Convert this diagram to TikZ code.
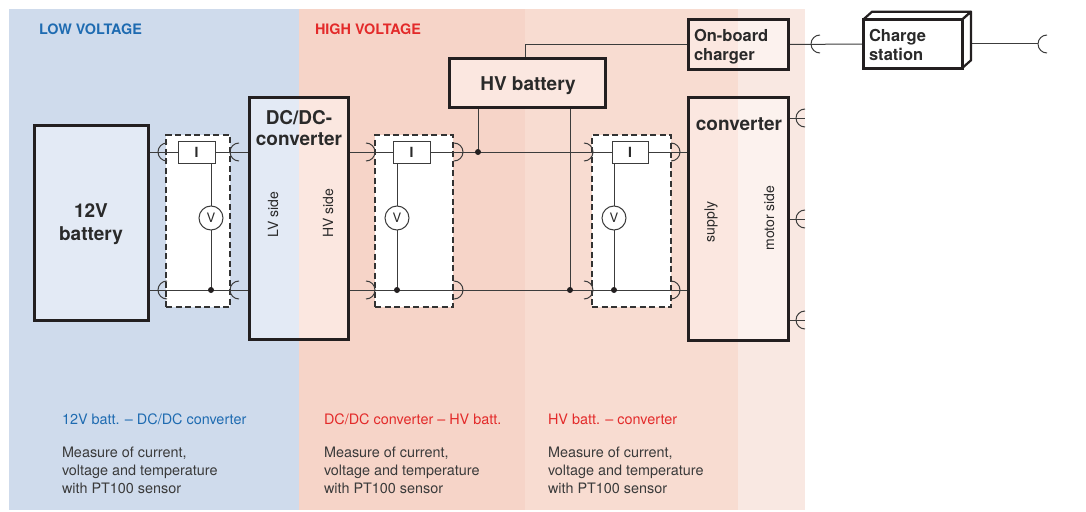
\documentclass[tikz,border=0pt]{standalone}
\usepackage{fontspec}
\setmainfont{TeX Gyre Heros}
\usetikzlibrary{calc}
\definecolor{lvbg}{HTML}{CFDBEC}
\definecolor{lvfill}{HTML}{E3EAF5}
\definecolor{hvbgA}{HTML}{F6D4C8}
\definecolor{hvbgB}{HTML}{F8DCD1}
\definecolor{hvbgC}{HTML}{F9E8E2}
\definecolor{hvfill}{HTML}{FBE7E0}
\definecolor{hvfillB}{HTML}{FCF2EE}
\definecolor{lvtext}{HTML}{1E6BB1}
\definecolor{hvtext}{HTML}{E32A2A}
\definecolor{framec}{HTML}{231F20}
\definecolor{wirec}{HTML}{3C3C3C}
\definecolor{dashc}{HTML}{333333}
\definecolor{textc}{HTML}{2A2A2A}
\definecolor{bodyc}{HTML}{3A3A3A}
\begin{document}
\begin{tikzpicture}[x=1pt,y=-1pt,
  every node/.style={inner sep=0pt,outer sep=0pt},
  frame/.style={draw=framec,line width=3pt},
  boxlabel/.style={text=textc,font=\bfseries\fontsize{19}{21}\selectfont,align=center},
  smallbox/.style={text=textc,font=\bfseries\fontsize{16.5}{18.3}\selectfont,align=left},
  meas/.style={draw=dashc,line width=1.1pt,dash pattern=on 6pt off 3.5pt,fill=white,minimum height=172pt},
  ibox/.style={draw=wirec,line width=1pt,fill=white,minimum width=37pt,minimum height=22pt,font=\bfseries\fontsize{14}{14}\selectfont,text=textc},
  vmeter/.style={circle,draw=wirec,line width=1pt,fill=white,minimum size=24pt,font=\fontsize{13}{13}\selectfont,text=textc},
  wire/.style={draw=wirec,line width=1pt},
  jdot/.style={circle,fill=framec,minimum size=6pt},
  sidelabel/.style={rotate=90,font=\fontsize{14}{14}\selectfont,text=textc},
  hdr/.style={font=\bfseries\fontsize{14.4}{14.4}\selectfont,anchor=base west},
  subhdr/.style={font=\fontsize{14.4}{14.4}\selectfont,anchor=base west},
  bodytext/.style={font=\fontsize{14.4}{18}\selectfont,text=bodyc,align=left,anchor=north west},
  sockL/.pic={\draw[wire] (0,9) arc[start angle=90,end angle=270,radius=9];},
  sockR/.pic={\draw[wire] (0,-9) arc[start angle=-90,end angle=90,radius=9];}
]
\useasboundingbox (0,0) rectangle (1086,511);
% backgrounds
\fill[lvbg] (9,9) rectangle (299,510);
\fill[hvbgA] (299,9) rectangle (525,510);
\fill[hvbgB] (525,9) rectangle (738,510);
\fill[hvbgC] (738,9) rectangle (805,510);
% coordinates
\coordinate (yT) at (0,152);
\coordinate (yB) at (0,290);
\coordinate (splitLV) at (299,0);
\coordinate (splitC) at (738,0);
\coordinate (jT) at (478,152);
\coordinate (jB) at (570,290);
\coordinate (hvtap) at (525,44);
\coordinate (m1) at (805,118);
\coordinate (m2) at (805,219);
\coordinate (m3) at (805,320);
\coordinate (plugA) at (820,44);
\coordinate (plugB) at (1047,44);
% headers
\node[hdr,text=lvtext] (lvhead) at (39,34.5) {LOW VOLTAGE};
\node[hdr,text=hvtext] (hvhead) at (315,34.5) {HIGH VOLTAGE};
% bottom texts
\node[subhdr,text=lvtext] (lvsub) at (62,424) {12V batt. – DC/DC converter};
\node[subhdr,text=hvtext] (hvsubA) at (324,424) {DC/DC converter – HV batt.};
\node[subhdr,text=hvtext] (hvsubB) at (548,424) {HV batt. – converter};
\node[bodytext] (lvbody) at (62,446.8) {Measure of current,\\voltage and temperature\\with PT100 sensor};
\node[bodytext] (hvbodyA) at (324,446.8) {Measure of current,\\voltage and temperature\\with PT100 sensor};
\node[bodytext] (hvbodyB) at (548,446.8) {Measure of current,\\voltage and temperature\\with PT100 sensor};
% measuring boxes
\node[meas,minimum width=64pt] (measA) at (198,221) {};
\node[meas,minimum width=78pt] (measB) at (414,221) {};
\node[meas,minimum width=79pt] (measC) at (631.5,221) {};
% main node geometry (placeholders, drawn below)
\path node[minimum width=99pt,minimum height=242pt] (dcdc) at (298.5,218) {};
\path node[minimum width=100pt,minimum height=243pt] (conv) at (738,218.5) {};
\path node[minimum width=100pt,minimum height=49pt] (obc) at (738,44.5) {};
\path node[minimum width=99pt,minimum height=48.5pt] (cs) at (912.5,44) {};
\path node[minimum width=156pt,minimum height=48pt] (hvbat) at (527,83) {};
\path node[minimum width=114pt,minimum height=195pt] (bat12) at (91,222.5) {};
% wires
\draw[wire] (bat12.east |- yT) -- (dcdc.west |- yT);
\draw[wire] (bat12.east |- yB) -- (dcdc.west |- yB);
\draw[wire] (dcdc.east |- yT) -- (conv.west |- yT);
\draw[wire] (dcdc.east |- yB) -- (conv.west |- yB);
\draw[wire] (hvbat.south -| jT) -- (jT);
\draw[wire] (hvbat.south -| jB) -- (jB);
\draw[wire] (hvbat.north -| hvtap) |- (obc.west);
\draw[wire] (obc.east) -- (cs.west);
\draw[wire] (cs.east) -- ($(plugB)+(-9,0)$);
\draw[wire] (conv.east |- m1) -- (m1);
\draw[wire] (conv.east |- m2) -- (m2);
\draw[wire] (conv.east |- m3) -- (m3);
% meters
\node[ibox] (iA) at (196.5,152) {I};
\node[ibox] (iB) at (411.5,152) {I};
\node[ibox,minimum width=36pt] (iC) at (630,152) {I};
\node[vmeter] (vA) at (211,218) {V};
\node[vmeter] (vB) at (397,218) {V};
\node[vmeter] (vC) at (614,218) {V};
\foreach \v/\i in {vA/iA,vB/iB,vC/iC}{
  \draw[wire] (\i.south -| \v) -- (\v.north);
  \draw[wire] (\v.south) -- (\v |- yB);
  \node[jdot] at (\v |- yB) {};
}
\node[jdot] (dotT) at (jT) {};
\node[jdot] (dotB) at (jB) {};
% sockets
\foreach \y in {yT,yB}{
  \pic at ($(measA.west |- \y)+(1,0)$) {sockL};
  \pic at ($(measA.east |- \y)+(9,0)$) {sockL};
  \pic at ($(measB.west |- \y)+(-9,0)$) {sockR};
  \pic at ($(measB.east |- \y)+(1,0)$) {sockR};
  \pic at ($(measC.west |- \y)+(-8,0)$) {sockR};
  \pic at (measC.east |- \y) {sockR};
}
\pic at (plugA) {sockL};
\pic at (plugB) {sockL};
\pic at (m1) {sockL};
\pic at (m2) {sockL};
\pic at (m3) {sockL};
% main boxes
\fill[lvfill] (bat12.north west) rectangle (bat12.south east);
\draw[frame] (bat12.north west) rectangle (bat12.south east);
\node[boxlabel] (bat12t) at ($(bat12.center)+(0,2)$) {12V\\[2.3pt]battery};
\fill[lvfill] (dcdc.north west) rectangle (dcdc.south -| splitLV);
\fill[hvfill] (dcdc.north -| splitLV) rectangle (dcdc.south east);
\draw[frame] (dcdc.north west) rectangle (dcdc.south east);
\node[boxlabel,anchor=north] (dcdct) at ($(dcdc.north)+(0.5,13)$) {DC/DC-\\converter};
\node[sidelabel] (lvside) at (273,214.5) {LV side};
\node[sidelabel] (hvside) at (328,213) {HV side};
\fill[hvfill] (hvbat.north west) rectangle (hvbat.south east);
\draw[frame] (hvbat.north west) rectangle (hvbat.south east);
\node[boxlabel,anchor=base] (hvbatt) at (528,90.7) {HV battery};
\fill[hvfill] (conv.north west) rectangle (conv.south -| splitC);
\fill[hvfillB] (conv.north -| splitC) rectangle (conv.south east);
\draw[frame] (conv.north west) rectangle (conv.south east);
\node[boxlabel,anchor=base] (convt) at (739,130) {converter};
\node[sidelabel] (supply) at (711,222) {supply};
\node[sidelabel] (motor) at (769,218) {motor side};
\fill[hvfill] (obc.north west) rectangle (obc.south -| splitC);
\fill[hvfillB] (obc.north -| splitC) rectangle (obc.south east);
\draw[frame] (obc.north west) rectangle (obc.south east);
\node[smallbox,anchor=north west] (obct) at (694,29.6) {On-board\\charger};
% charge station (3D box)
\filldraw[fill=white,draw=framec,line width=2.2pt,line join=round]
  (cs.north west) -- ($(cs.north west)+(9,-8)$) -- ($(cs.north east)+(9,-8)$) -- (cs.north east) -- cycle;
\filldraw[fill=white,draw=framec,line width=2.2pt,line join=round]
  (cs.north east) -- ($(cs.north east)+(9,-8)$) -- ($(cs.south east)+(9,-8)$) -- (cs.south east) -- cycle;
\filldraw[fill=white,draw=framec,line width=3pt] (cs.north west) rectangle (cs.south east);
\node[smallbox,anchor=north west] (cst) at (869,29.6) {Charge\\station};
\end{tikzpicture}
\end{document}
